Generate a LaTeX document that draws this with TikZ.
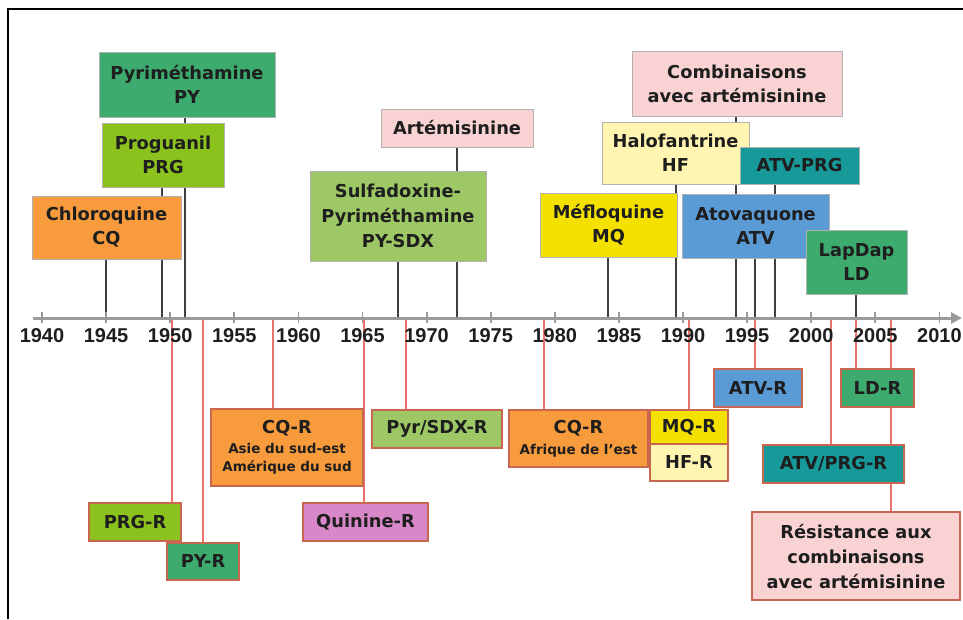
\documentclass[tikz,border=0pt]{standalone}
\usepackage{fontspec}
\setmainfont{DejaVu Sans}
\newfontfamily\yearfont{Liberation Sans}
\usetikzlibrary{arrows.meta,backgrounds}
\definecolor{cPY}{HTML}{3DAA6E}
\definecolor{cPRG}{HTML}{8CC21E}
\definecolor{cCQ}{HTML}{F79B3C}
\definecolor{cSDX}{HTML}{9DC865}
\definecolor{cART}{HTML}{F9D3D3}
\definecolor{cMQ}{HTML}{F5E100}
\definecolor{cHF}{HTML}{FFF4B0}
\definecolor{cTEAL}{HTML}{17999A}
\definecolor{cATV}{HTML}{5A9BD6}
\definecolor{cQUI}{HTML}{D888C8}
\definecolor{cRED}{HTML}{E8736C}
\definecolor{cRB}{HTML}{C8664F}
\definecolor{cTXT}{HTML}{1E1E1E}
\definecolor{cAX}{HTML}{9A9A9A}
\tikzset{
  boxtop/.style={draw=black!30, line width=0.8pt, inner sep=0pt, align=center,
    text=cTXT, font=\bfseries\fontsize{17.8}{24}\selectfont},
  boxbot/.style={draw=cRB, line width=1.2pt, inner sep=0pt, align=center,
    text=cTXT, font=\bfseries\fontsize{17.8}{24}\selectfont},
  blk/.style={draw=black!75, line width=1.6pt},
  redl/.style={draw=cRED, line width=1.5pt},
  tick/.style={draw=cAX, line width=1.8pt},
  yearlab/.style={font=\yearfont\bfseries\fontsize{20}{22}\selectfont, text=cTXT, inner sep=0pt}
}
\begin{document}
\begin{tikzpicture}[x=1pt,y=-1pt]
\useasboundingbox (0,0) rectangle (963,619);
% frame
\draw[line width=1.8pt] (8,619) -- (8,9) -- (963,9);

% axis
\coordinate (axL) at (33,318);
\coordinate (axR) at (962,318);
\draw[draw=cAX, line width=3pt, -{Triangle[length=11pt,width=11pt]}] (axL) -- (axR);
\foreach \k [evaluate=\k as \xx using 42+64.1*\k, evaluate=\k as \yr using int(1940+5*\k)] in {0,...,14} {
  \draw[tick] (\xx,312) -- (\xx,323);
  \node[yearlab] (y\k) at (\xx,336) {\yr};
}

% top boxes
\node[boxtop, fill=cPY,  minimum width=176, minimum height=65] (PY)  at (187,84.5) {Pyriméthamine\\PY};
\node[boxtop, fill=cPRG, minimum width=122, minimum height=64] (PRG) at (163,155) {Proguanil\\PRG};
\node[boxtop, fill=cCQ,  minimum width=149, minimum height=63] (CQ)  at (106.5,227.5) {Chloroquine\\CQ};
\node[boxtop, fill=cART, minimum width=152, minimum height=38] (ART) at (457,128) {Artémisinine};
\node[boxtop, fill=cSDX, minimum width=176, minimum height=90, font=\bfseries\fontsize{17.8}{25}\selectfont] (SDX) at (398,216) {Sulfadoxine-\\Pyriméthamine\\PY-SDX};
\node[boxtop, fill=cMQ,  minimum width=137, minimum height=64] (MQ)  at (608.5,225) {Méfloquine\\MQ};
\node[boxtop, fill=cART, minimum width=210, minimum height=65] (COMB) at (737,83.5) {Combinaisons\\avec artémisinine};
\node[boxtop, fill=cHF,  minimum width=147, minimum height=62] (HF)  at (675.5,153) {Halofantrine\\HF};
\node[boxtop, fill=cTEAL, minimum width=119, minimum height=37] (ATVPRG) at (799.5,165.5) {ATV-PRG};
\node[boxtop, fill=cATV, minimum width=147, minimum height=64] (ATV) at (755.5,226) {Atovaquone\\ATV};
\node[boxtop, fill=cPY,  minimum width=101, minimum height=64] (LD)  at (856.5,262) {LapDap\\LD};

% bottom boxes
\node[boxbot, fill=cPRG, minimum width=92,  minimum height=38] (PRGR) at (135,522) {PRG-R};
\node[boxbot, fill=cPY,  minimum width=72,  minimum height=37] (PYR)  at (203,561.5) {PY-R};
\node[boxbot, fill=cCQ,  minimum width=152, minimum height=77, font=\bfseries\fontsize{13.5}{18}\selectfont] (CQRA) at (287,447.5)
  {{\fontsize{17.8}{18}\selectfont CQ-R}\\[2pt]Asie du sud-est\\Amérique du sud};
\node[boxbot, fill=cQUI, minimum width=125, minimum height=38] (QUIR) at (365.5,522) {Quinine-R};
\node[boxbot, fill=cSDX, minimum width=130, minimum height=38] (PSR)  at (437,429) {Pyr/SDX-R};
\node[boxbot, fill=cCQ,  minimum width=139, minimum height=57, font=\bfseries\fontsize{13.5}{18}\selectfont] (CQRF) at (578.5,438.5)
  {{\fontsize{17.8}{18}\selectfont CQ-R}\\[3pt]Afrique de l'est};
\node[boxbot, fill=cMQ,  minimum width=78,  minimum height=34] (MQR)  at (689,427) {MQ-R};
\node[boxbot, fill=cHF,  minimum width=78,  minimum height=37] (HFR)  at (689,462.5) {HF-R};
\node[boxbot, fill=cATV, minimum width=88,  minimum height=38] (ATVR) at (758,388) {ATV-R};
\node[boxbot, fill=cPY,  minimum width=73,  minimum height=38] (LDR)  at (877.5,388) {LD-R};
\node[boxbot, fill=cTEAL, minimum width=141, minimum height=38] (APR) at (833.5,464) {ATV/PRG-R};
\node[boxbot, fill=cART, minimum width=208, minimum height=88, font=\bfseries\fontsize{17.8}{25}\selectfont] (RES) at (856,556)
  {Résistance aux\\combinaisons\\avec artémisinine};

% axis anchor points for connectors
\foreach \n/\xx in {CQ/106, PRG/162, PY/185, SDX/398, ART/457, MQ/608, HF/676, COMB/736, ATV/755, ATVPRG/775, LD/856}
  \coordinate (a\n) at (\xx,318);
\foreach \n/\xx in {PRGR/172, PYR/203, CQRA/273, QUIR/364, PSR/406, CQRF/544, MQR/689, ATVR/755, APR/831, LDR/856, RES/891}
  \coordinate (r\n) at (\xx,318);

\begin{pgfonlayer}{background}
  \foreach \n in {CQ, PRG, PY, SDX, ART, MQ, HF, COMB, ATV, ATVPRG, LD}
    \draw[blk] (\n.south -| a\n) -- (a\n);
  \foreach \n in {PRGR, PYR, CQRA, QUIR, PSR, CQRF, MQR, ATVR, APR, LDR, RES}
    \draw[redl] (r\n) -- (\n.north -| r\n);
\end{pgfonlayer}
\end{tikzpicture}
\end{document}
